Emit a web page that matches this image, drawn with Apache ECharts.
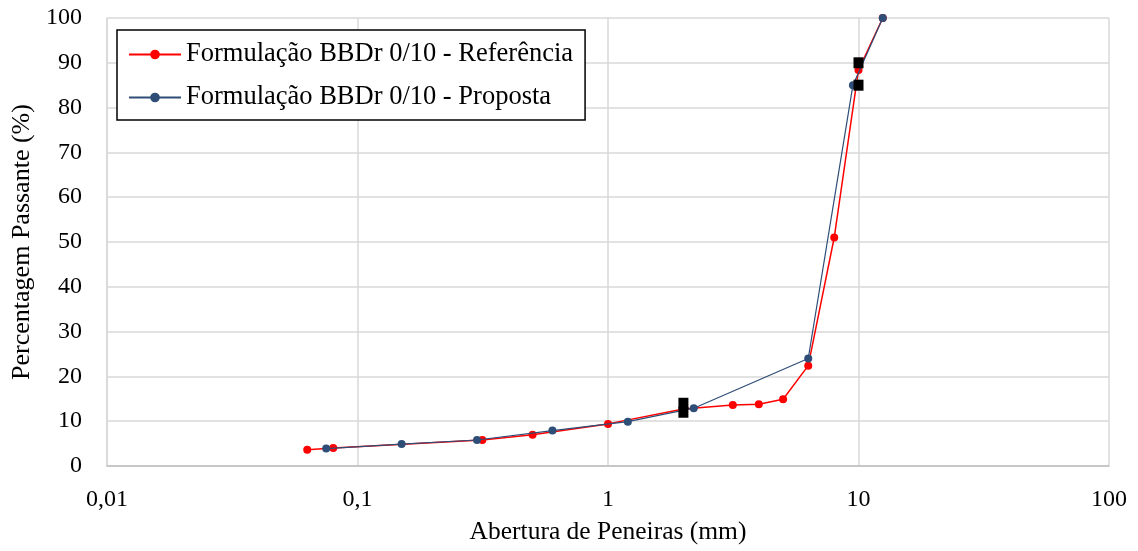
<!DOCTYPE html>
<html>
<head>
<meta charset="utf-8">
<script src="https://cdn.jsdelivr.net/npm/echarts@6/dist/echarts.min.js"></script>
<style>
  html, body { margin: 0; padding: 0; background: #fff; }
  #chart { width: 1138px; height: 551px; }
</style>
</head>
<body>
<div id="chart"></div>
<script>
// Curvas granulométricas
const refSieves = [0.063, 0.08, 0.315, 0.5, 1, 2, 3.15, 4, 5, 6.3, 8, 10, 12.5];
const refPassing = [3.6, 4.0, 5.8, 7.0, 9.4, 12.7, 13.6, 13.8, 14.9, 22.4, 51.0, 88.4, 100];

const propSieves = [0.075, 0.15, 0.3, 0.6, 1.2, 2.2, 6.3, 9.5, 12.5];
const propPassing = [3.9, 4.9, 5.8, 7.9, 9.9, 12.9, 24.0, 85.0, 100];

// pontos de controlo (fuso)
const limitSieves = [2, 2, 10, 10];
const limitPassing = [12, 14, 85, 90];

const xTickLabels = ["0,01", "0,1", "1", "10", "100"];
const seriesNames = ["Formulação BBDr 0/10 - Referência", "Formulação BBDr 0/10 - Proposta"];

const pairs = (xs, ys) => xs.map((x, i) => [x, ys[i]]);

const font = "Liberation Serif";
const chart = echarts.init(document.getElementById("chart"));

const option = {
  animation: false,
  textStyle: { fontFamily: font, color: "#000" },
  grid: { left: 107, right: 29, top: 18, bottom: 85 },
  legend: {
    data: seriesNames,
    orient: "vertical",
    left: 117,
    top: 30,
    padding: [11, 12, 9, 11],
    itemGap: 16,
    itemWidth: 52,
    itemHeight: 12,
    borderColor: "#000",
    borderWidth: 1.5,
    backgroundColor: "#fff",
    textStyle: { fontFamily: font, fontSize: 26.5, color: "#000" },
  },
  xAxis: {
    type: "log",
    logBase: 10,
    min: 0.01,
    max: 100,
    name: "Abertura de Peneiras (mm)",
    nameLocation: "middle",
    nameGap: 53,
    nameTextStyle: { fontFamily: font, fontSize: 25.5, color: "#000" },
    axisLine: { show: true, lineStyle: { color: "#bfbfbf", width: 1.5 } },
    axisTick: { show: false },
    minorTick: { show: false },
    splitLine: { show: true, lineStyle: { color: "#d9d9d9", width: 1.5 } },
    axisLabel: {
      fontFamily: font,
      fontSize: 24,
      color: "#000",
      margin: 22,
      formatter: (v) => xTickLabels[Math.round(Math.log10(v)) + 2] ?? "",
    },
  },
  yAxis: {
    type: "value",
    min: 0,
    max: 100,
    interval: 10,
    name: "Percentagem Passante (%)",
    nameLocation: "middle",
    nameGap: 72,
    nameTextStyle: { fontFamily: font, fontSize: 26, color: "#000" },
    axisLine: { show: true, lineStyle: { color: "#d9d9d9", width: 1.5 } },
    axisTick: { show: false },
    splitLine: { show: true, lineStyle: { color: "#d9d9d9", width: 1.5 } },
    axisLabel: { fontFamily: font, fontSize: 24, color: "#000", margin: 25 },
  },
  series: [
    {
      name: seriesNames[0],
      type: "line",
      data: pairs(refSieves, refPassing),
      symbol: "circle",
      symbolSize: 8,
      lineStyle: { color: "#ff0000", width: 1.5 },
      itemStyle: { color: "#ff0000" },
      z: 2,
    },
    {
      name: seriesNames[1],
      type: "line",
      data: pairs(propSieves, propPassing),
      symbol: "circle",
      symbolSize: 8,
      lineStyle: { color: "#2e4d77", width: 1.2 },
      itemStyle: { color: "#2e4d77" },
      z: 3,
    },
    {
      name: "Fuso",
      type: "scatter",
      data: pairs(limitSieves, limitPassing),
      symbol: "rect",
      symbolSize: [10, 11],
      itemStyle: { color: "#000", opacity: 1 },
      z: 4,
    },
  ],
};

chart.setOption(option);
</script>
</body>
</html>
